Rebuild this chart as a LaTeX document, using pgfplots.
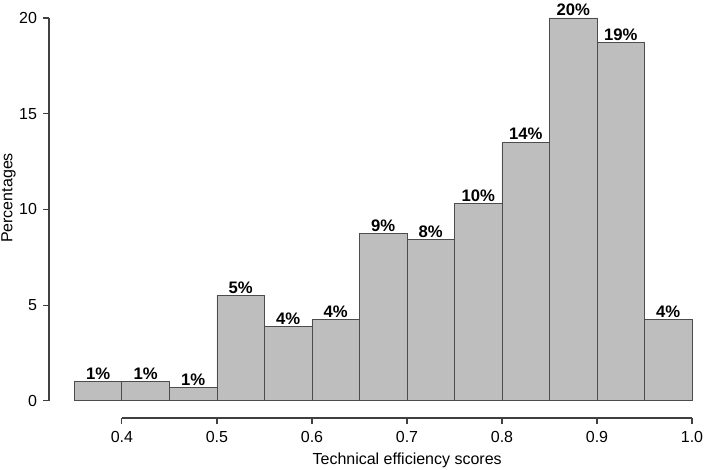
\documentclass[border=0pt]{standalone}
\usepackage{pgfplots}
\pgfplotsset{compat=1.18}
\usepackage{fontspec}
\setmainfont{Liberation Sans}
\definecolor{barfill}{HTML}{BEBEBE}
\begin{document}
\begin{tikzpicture}
\begin{axis}[
  scale only axis, width=482.25pt, height=300pt,
  xmin=0.3232, xmax=1.0, ymin=-0.9, ymax=20,
  axis x line*=bottom, axis y line*=left,
  axis line style={draw=none},
  clip=false,
  xtick={0.4,0.5,0.6,0.7,0.8,0.9,1.0},
  xticklabels={0.4,0.5,0.6,0.7,0.8,0.9,1.0},
  ytick={0,5,10,15,20},
  tick align=outside, major tick length=4.5pt,
  tick style={black!75, line width=0.8pt},
  /pgf/number format/assume math mode=true,
  ticklabel style={font=\fontsize{12}{14}\selectfont},
  xticklabel style={yshift=-2pt},
  yticklabel style={/pgf/number format/fixed, xshift=-1pt},
  xlabel={Technical efficiency scores},
  ylabel={Percentages},
  label style={font=\fontsize{12}{14}\selectfont},
  xlabel style={at={(axis description cs:0.557,0)}, anchor=center, yshift=-31.5pt},
  ylabel style={at={(axis description cs:0,0.55)}, anchor=center, yshift=30.4pt},
  ybar, bar width=0.05,
  nodes near coords,
  point meta=explicit symbolic,
  every node near coord/.append style={font=\bfseries\fontsize{12.5}{14}\selectfont, inner sep=1.5pt, anchor=south},
]
\addplot[fill=barfill, draw=black!70, line width=0.7pt] coordinates {
  (0.375,1.0) [1\%]
  (0.425,1.0) [1\%]
  (0.475,0.68) [1\%]
  (0.525,5.48) [5\%]
  (0.575,3.86) [4\%]
  (0.625,4.23) [4\%]
  (0.675,8.72) [9\%]
  (0.725,8.41) [8\%]
  (0.775,10.29) [10\%]
  (0.825,13.52) [14\%]
  (0.875,20.0) [20\%]
  (0.925,18.7) [19\%]
  (0.975,4.23) [4\%]
};
\draw[black!75, line width=0.8pt] (axis cs:0.4,-0.9) -- (axis cs:1.0,-0.9);
\draw[black!75, line width=0.8pt] (axis cs:0.3232,0) -- (axis cs:0.3232,20);
\end{axis}
\pgfresetboundingbox
\path[use as bounding box] ([xshift=-36.75pt,yshift=-39pt]current axis.south west) rectangle ([xshift=9.75pt,yshift=13.5pt]current axis.north east);
\end{tikzpicture}
\end{document}
